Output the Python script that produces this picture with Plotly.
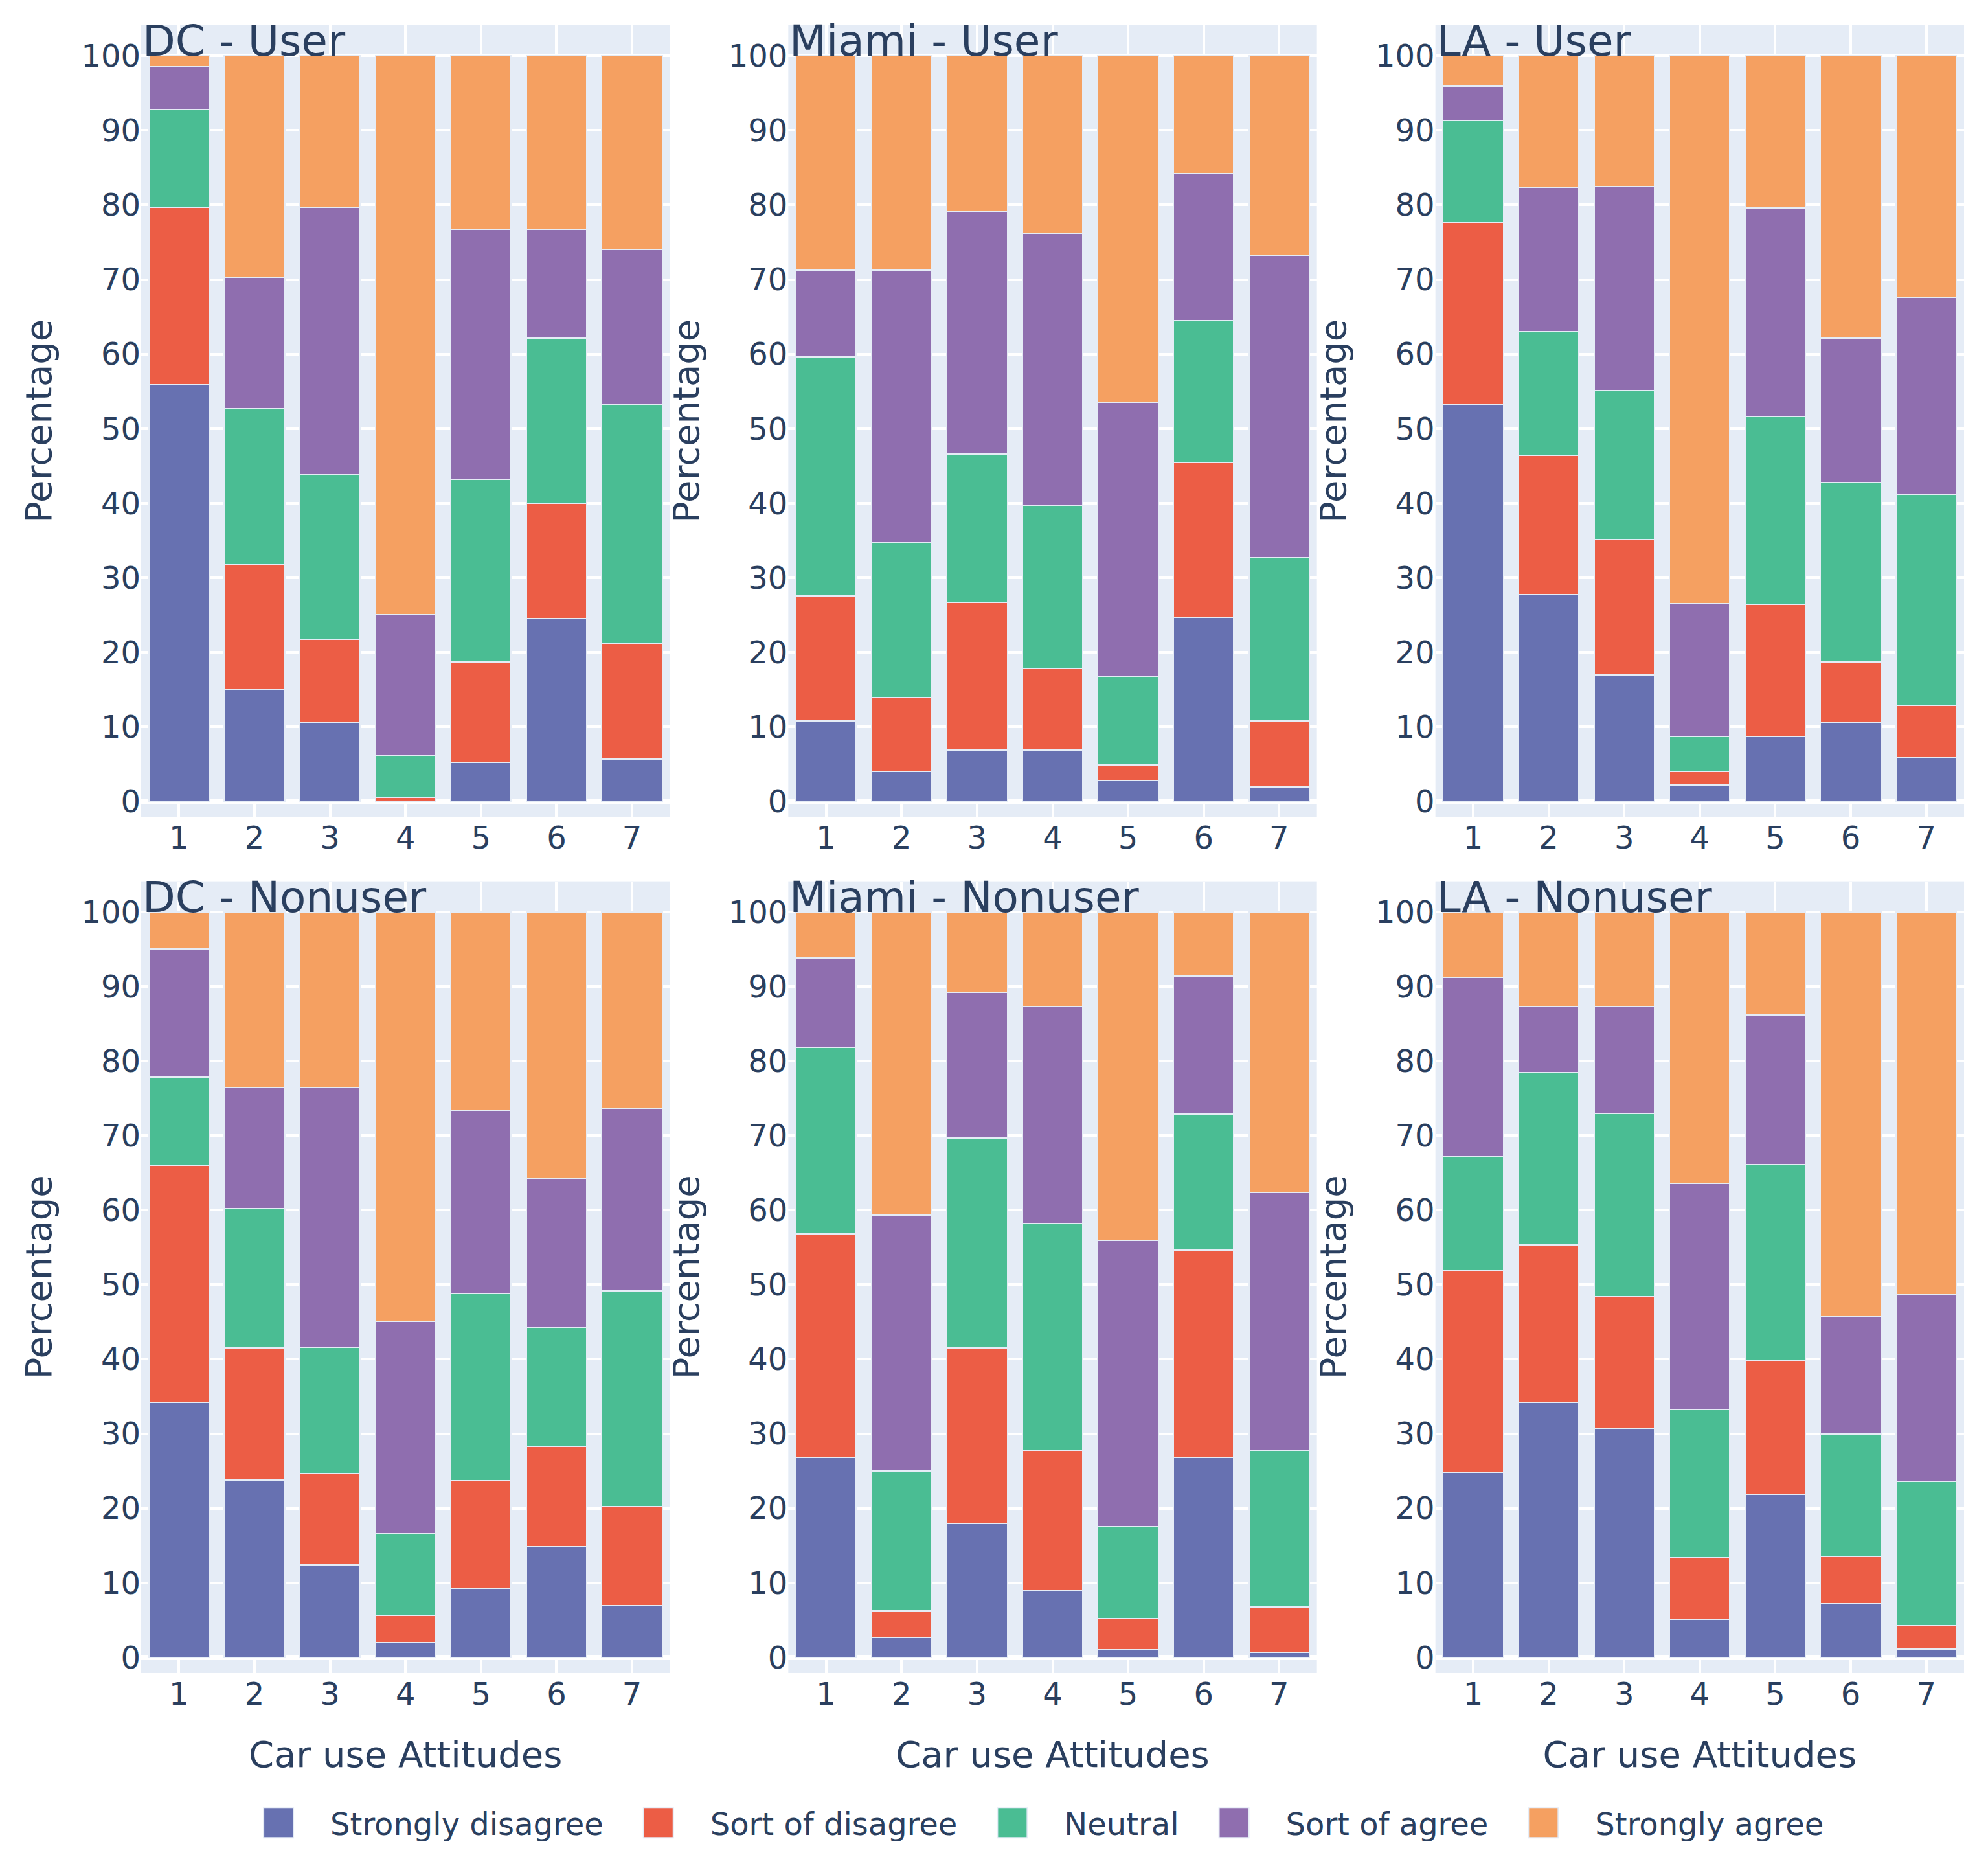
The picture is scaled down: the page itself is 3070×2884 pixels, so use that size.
import plotly.graph_objects as go
from plotly.subplots import make_subplots

attitudes = [1, 2, 3, 4, 5, 6, 7]
responses = ["Strongly disagree", "Sort of disagree", "Neutral", "Sort of agree", "Strongly agree"]
colors = ["#6771B1", "#EC5D45", "#4ABD93", "#8F6EAF", "#F5A061"]

# share of respondents (%) per response level, rows follow `responses`
dc_user = [
    [55.9, 15.0, 10.5, 0.0, 5.2, 24.5, 5.7],
    [23.8, 16.8, 11.2, 0.5, 13.5, 15.5, 15.5],
    [13.1, 20.9, 22.1, 5.7, 24.5, 22.1, 32.0],
    [5.7, 17.6, 35.9, 18.8, 33.5, 14.6, 20.8],
    [1.5, 29.7, 20.3, 75.0, 23.3, 23.3, 26.0],
]
miami_user = [
    [10.8, 4.0, 6.9, 6.9, 2.8, 24.7, 1.9],
    [16.8, 9.9, 19.8, 10.9, 2.1, 20.8, 8.9],
    [32.0, 20.8, 19.9, 21.9, 11.9, 19.0, 21.9],
    [11.7, 36.6, 32.6, 36.5, 36.7, 19.7, 40.6],
    [28.7, 28.7, 20.8, 23.8, 46.5, 15.8, 26.7],
]
la_user = [
    [53.2, 27.7, 17.0, 2.2, 8.7, 10.5, 5.8],
    [24.5, 18.7, 18.1, 1.8, 17.7, 8.2, 7.1],
    [13.6, 16.6, 20.0, 4.7, 25.2, 24.1, 28.2],
    [4.6, 19.4, 27.4, 17.8, 28.0, 19.3, 26.5],
    [4.1, 17.6, 17.5, 73.5, 20.4, 37.9, 32.4],
]
dc_nonuser = [
    [34.2, 23.8, 12.4, 2.0, 9.3, 14.8, 6.9],
    [31.8, 17.7, 12.3, 3.6, 14.4, 13.5, 13.3],
    [11.8, 18.7, 16.9, 11.0, 25.1, 16.0, 29.0],
    [17.2, 16.2, 34.8, 28.5, 24.5, 19.9, 24.5],
    [5.0, 23.6, 23.6, 54.9, 26.7, 35.8, 26.3],
]
miami_nonuser = [
    [26.8, 2.7, 18.0, 8.9, 1.0, 26.8, 0.7],
    [30.0, 3.5, 23.5, 18.9, 4.2, 27.8, 6.1],
    [25.0, 18.8, 28.2, 30.4, 12.3, 18.3, 21.0],
    [12.0, 34.3, 19.5, 29.1, 38.4, 18.5, 34.6],
    [6.2, 40.7, 10.8, 12.7, 44.1, 8.6, 37.6],
]
la_nonuser = [
    [24.8, 34.2, 30.7, 5.1, 21.9, 7.2, 1.1],
    [27.1, 21.1, 17.7, 8.3, 17.9, 6.3, 3.1],
    [15.3, 23.1, 24.6, 19.9, 26.3, 16.5, 19.4],
    [24.0, 8.9, 14.3, 30.3, 20.1, 15.7, 25.0],
    [8.8, 12.7, 12.7, 36.4, 13.8, 54.3, 51.4],
]

panels = [
    ("DC - User", dc_user),
    ("Miami - User", miami_user),
    ("LA - User", la_user),
    ("DC - Nonuser", dc_nonuser),
    ("Miami - Nonuser", miami_nonuser),
    ("LA - Nonuser", la_nonuser),
]

fig = make_subplots(rows=2, cols=3, horizontal_spacing=0.065, vertical_spacing=0.039)

for k, (title, values) in enumerate(panels):
    row, col = k // 3 + 1, k % 3 + 1
    for j, name in enumerate(responses):
        fig.add_trace(
            go.Bar(
                x=attitudes,
                y=values[j],
                name=name,
                legendgroup=name,
                showlegend=(k == 0),
                marker=dict(color=colors[j], line=dict(color="#E5ECF6", width=2)),
            ),
            row=row,
            col=col,
        )
    # panel label sits in the top-left corner of each plot area
    n = "" if k == 0 else str(k + 1)
    fig.add_annotation(
        text=title,
        xref=f"x{n} domain",
        yref=f"y{n} domain",
        x=0,
        y=1,
        xanchor="left",
        yanchor="top",
        yshift=16,
        showarrow=False,
        font=dict(size=66, color="#2a3f5f"),
    )

fig.update_yaxes(
    range=[-2.1, 104.1],
    dtick=10,
    title_text="Percentage",
    title_font_size=56,
    title_standoff=27,
    tickfont_size=48,
    gridwidth=4,
    zerolinewidth=8,
)
fig.update_xaxes(dtick=1, tickfont_size=48, gridwidth=4, zerolinewidth=8)
fig.update_xaxes(title_text="Car use Attitudes", title_font_size=56, title_standoff=46, row=2)

fig.update_layout(
    template="plotly",
    barmode="stack",
    width=3070,
    height=2884,
    margin=dict(l=210, r=45, t=31, b=309),
    font=dict(family="DejaVu Sans", size=48, color="#2a3f5f"),
    legend=dict(
        orientation="h",
        x=0.486,
        xanchor="center",
        y=-0.091,
        yanchor="middle",
        font_size=48,
        itemwidth=150,
    ),
)

# the bar swatches in the legend are fixed at 12px; blow them up to match the large fonts
fig.write_html(
    "out.html",
    post_script=(
        "document.querySelectorAll('.legendpoints path')"
        ".forEach(function(p){p.setAttribute('d','M23,23H-23V-23H23Z');});"
    ),
)
